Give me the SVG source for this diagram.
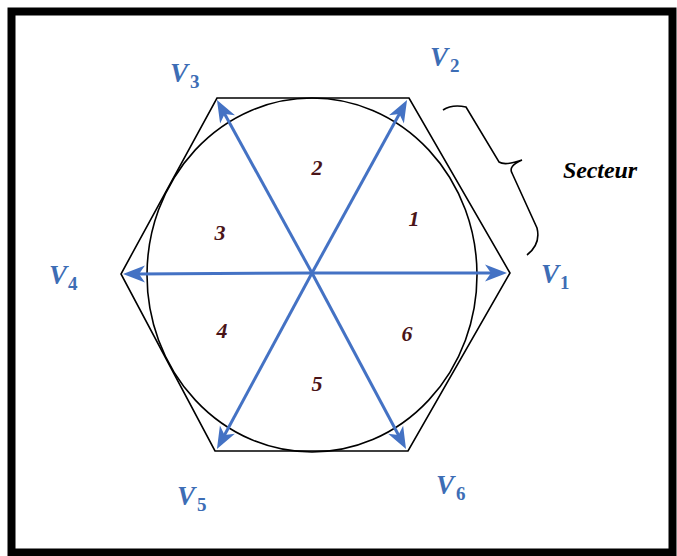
<svg xmlns="http://www.w3.org/2000/svg" width="677" height="556" viewBox="0 0 677 556">
<style>
.frame{fill:#fff;stroke:#000;stroke-width:8}
.thin{fill:none;stroke:#000;stroke-width:1.6}
.vec{stroke:#4472C4;stroke-width:3;fill:none}
.vl{font-family:"Liberation Serif","DejaVu Serif",serif;font-weight:bold;font-style:italic;font-size:27px;fill:#3D6DB5}
.vs{font-family:"Liberation Serif","DejaVu Serif",serif;font-weight:bold;font-size:19px;fill:#3D6DB5}
.num{font-family:"Liberation Serif","DejaVu Serif",serif;font-style:italic;font-weight:bold;font-size:22px;fill:#4A1418;text-anchor:middle}
.sec{font-family:"Liberation Serif","DejaVu Serif",serif;font-weight:bold;font-style:italic;font-size:24px;fill:#000}
</style>
<defs>
<marker id="ah" markerUnits="userSpaceOnUse" markerWidth="40" markerHeight="40" viewBox="-20 -20 40 40" refX="0" refY="0" orient="auto" overflow="visible">
<path d="M14,0 L-8,-8.5 L-2,0 L-8,8.5 Z" fill="#4472C4"/>
</marker>
</defs>
<rect class="frame" x="11.5" y="11.5" width="661" height="541"/>
<g id="hexagon">
<polygon class="thin" points="217,98 409,98 510,273 408,451 215,451 121,274"/>
</g>
<g id="circle">
<ellipse class="thin" cx="312" cy="275" rx="165" ry="177"/>
</g>
<g id="connectors">
<line class="vec" x1="312" y1="273" x2="493" y2="273" marker-end="url(#ah)"/>
<line class="vec" x1="312" y1="273" x2="400.3" y2="112.3" marker-end="url(#ah)"/>
<line class="vec" x1="312" y1="273" x2="223.7" y2="112.3" marker-end="url(#ah)"/>
<line class="vec" x1="312" y1="273" x2="137" y2="274" marker-end="url(#ah)"/>
<line class="vec" x1="312" y1="273" x2="223.6" y2="436.7" marker-end="url(#ah)"/>
<line class="vec" x1="312" y1="273" x2="399.4" y2="436.7" marker-end="url(#ah)"/>
</g>
<g id="V1"><text class="vl" x="541" y="283">V</text><text class="vs" x="560" y="289">1</text></g>
<g id="V2"><text class="vl" x="430" y="66">V</text><text class="vs" x="450" y="72">2</text></g>
<g id="V3"><text class="vl" x="170" y="82">V</text><text class="vs" x="190" y="88">3</text></g>
<g id="V4"><text class="vl" x="49" y="284">V</text><text class="vs" x="68" y="290">4</text></g>
<g id="V5"><text class="vl" x="177" y="505">V</text><text class="vs" x="197" y="511">5</text></g>
<g id="V6"><text class="vl" x="436" y="494">V</text><text class="vs" x="456" y="500">6</text></g>
<g id="sectors">
<text class="num" x="317" y="175">2</text>
<text class="num" x="414" y="226">1</text>
<text class="num" x="220" y="240">3</text>
<text class="num" x="222" y="338">4</text>
<text class="num" x="317" y="391">5</text>
<text class="num" x="407" y="341">6</text>
</g>
<g id="secteur">
<path class="thin" d="M443,110 Q452,104 466,107 L499,162 Q505,166 522,160 Q508,166 512,173 L537,228 Q541,244 527,255"/>
<text class="sec" x="563" y="178" textLength="74">Secteur</text>
</g>
</svg>
